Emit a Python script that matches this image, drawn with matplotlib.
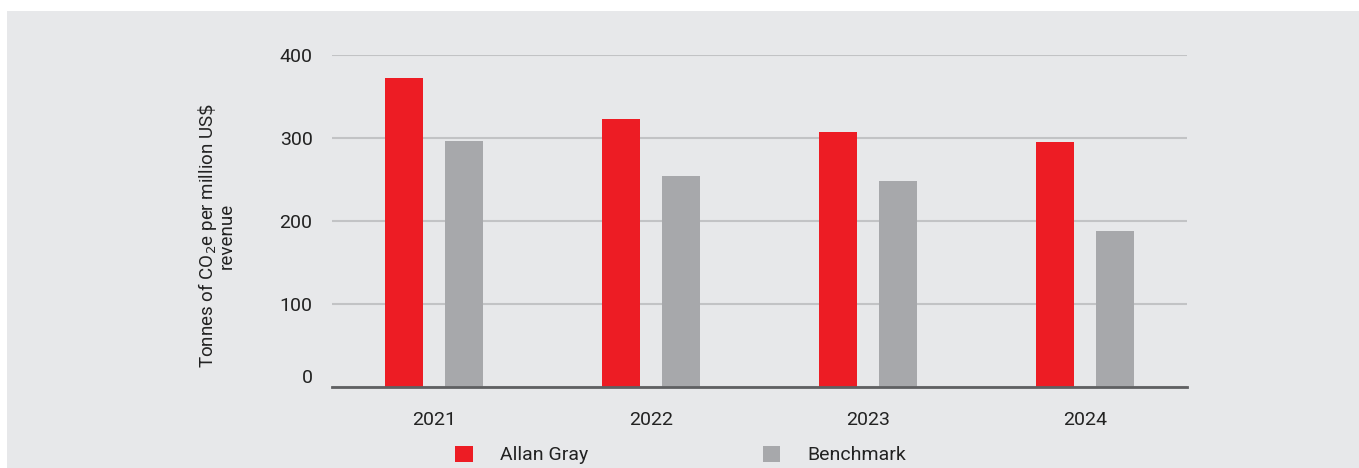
import matplotlib.pyplot as plt
import numpy as np
from matplotlib.patches import Rectangle

years = ['2021', '2022', '2023', '2024']
allan_gray = [372, 323, 307, 295]
benchmark = [296, 254, 248, 188]
yticks = [0, 100, 200, 300, 400]

red = '#ed1c24'
grey = '#a7a8ab'
panel = '#e7e8ea'

plt.rcParams['font.family'] = ['Roboto', 'DejaVu Sans']

W, H = 1359, 468
fig = plt.figure(figsize=(W / 100, H / 100), dpi=100)
fig.patches.append(Rectangle((7 / W, 0), 1, 1 - 11 / H, transform=fig.transFigure,
                             facecolor=panel, edgecolor='none', zorder=-1))

ax = fig.add_axes([332 / W, 1 - 387 / H, (1187 - 332) / W, (387 - 55) / H])
ax.set_facecolor('none')

x = np.arange(len(years))
w = 0.175
off = 0.138
ax.bar(x - off, allan_gray, w, color=red, label='Allan Gray', zorder=3)
ax.bar(x + off, benchmark, w, color=grey, label='Benchmark', zorder=3)

ax.set_xlim(-0.47, 3.47)
ax.set_ylim(0, 400)
ax.set_yticks(yticks)
ax.set_xticks(x, labels=years)
ax.tick_params(axis='both', length=0, labelsize=14, colors='#222222')
ax.tick_params(axis='y', pad=14)
ax.tick_params(axis='x', pad=17)
ax.get_yticklabels()[0].set_verticalalignment('bottom')

ax.grid(axis='y', color='#c2c3c5', linewidth=1.5, zorder=0)
for s in ['top', 'right', 'left']:
    ax.spines[s].set_visible(False)
ax.spines['bottom'].set_color('#5f6062')
ax.spines['bottom'].set_linewidth(2)
ax.spines['bottom'].set_zorder(4)

ax.set_ylabel('Tonnes of CO$_2$e per million US$\\$$\nrevenue', fontsize=13.5,
              color='#222222', linespacing=0.85)
ax.yaxis.set_label_coords(-0.113, 0.455)

ax.legend(loc='center left', bbox_to_anchor=(455 / W, 1 - 455 / H), bbox_transform=fig.transFigure,
          ncol=2, frameon=False, fontsize=14, handlelength=0.9, handleheight=0.9,
          handletextpad=1.4, columnspacing=9.0, borderpad=0, borderaxespad=0,
          labelcolor='#222222')

fig.savefig('out.png', dpi=100)
